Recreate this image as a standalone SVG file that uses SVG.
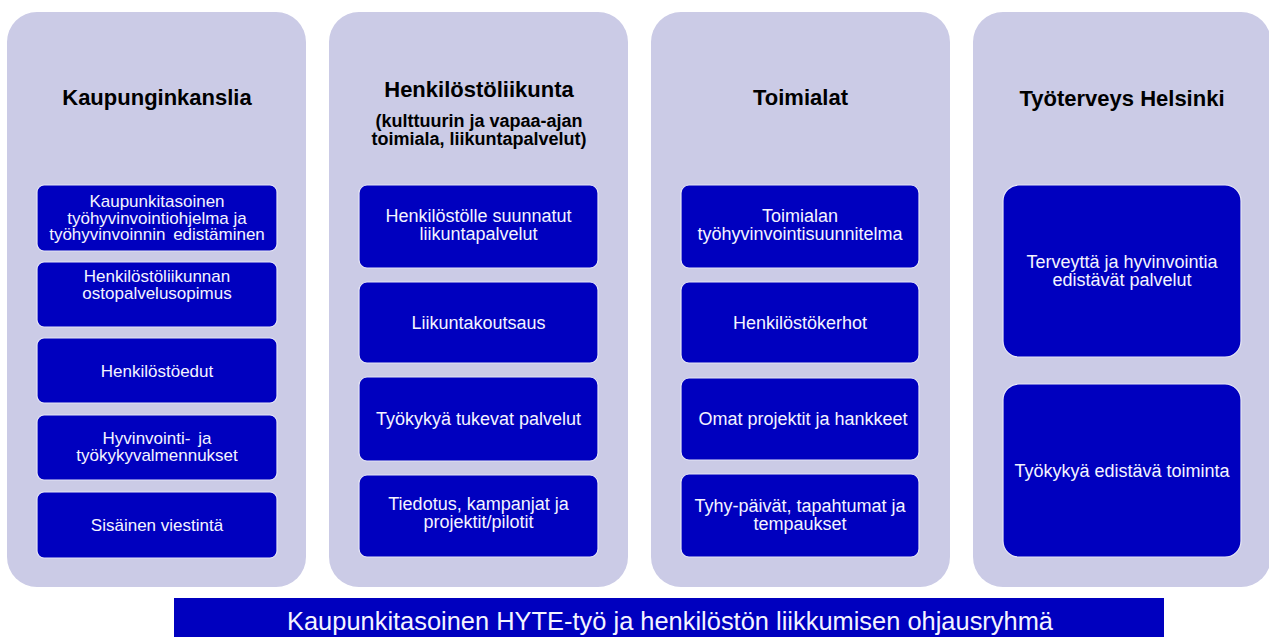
<svg xmlns="http://www.w3.org/2000/svg" width="1269" height="637" viewBox="0 0 1269 637">
<style>
.panel{fill:#cbcbe6;}
.box{fill:#0000bf;stroke:#e6e6f6;stroke-width:1.2;}
.title{font-family:"Liberation Sans",Arial,sans-serif;font-weight:bold;font-size:22px;fill:#000;text-anchor:middle;}
.sub{font-family:"Liberation Sans",Arial,sans-serif;font-weight:bold;font-size:18px;fill:#000;text-anchor:middle;}
.t17{font-family:"Liberation Sans",Arial,sans-serif;font-size:17px;fill:#f4f4ff;text-anchor:middle;}
.t18{font-family:"Liberation Sans",Arial,sans-serif;font-size:18px;fill:#f4f4ff;text-anchor:middle;}
.bar{font-family:"Liberation Sans",Arial,sans-serif;font-size:26px;fill:#f4f4ff;}
</style>
<rect width="1269" height="637" fill="#ffffff"/>
<g id="kaupunginkanslia">
<rect class="panel" x="7" y="12" width="299" height="575" rx="30"/>
<text class="title" x="157" y="105">Kaupunginkanslia</text>
<rect class="box" x="37" y="185" width="240" height="66" rx="7"/>
<text class="t17"><tspan x="157" y="207">Kaupunkitasoinen</tspan><tspan x="157" y="223.5">työhyvinvointiohjelma ja</tspan><tspan x="157" y="240" word-spacing="3">työhyvinvoinnin edistäminen</tspan></text>
<rect class="box" x="37" y="262" width="240" height="65" rx="7"/>
<text class="t17"><tspan x="157" y="282">Henkilöstöliikunnan</tspan><tspan x="157" y="299">ostopalvelusopimus</tspan></text>
<rect class="box" x="37" y="338" width="240" height="65" rx="7"/>
<text class="t17" x="157" y="377">Henkilöstöedut</text>
<rect class="box" x="37" y="415" width="240" height="65" rx="7"/>
<text class="t17"><tspan x="157" y="444" word-spacing="3">Hyvinvointi- ja</tspan><tspan x="157" y="460.5">työkykyvalmennukset</tspan></text>
<rect class="box" x="37" y="492" width="240" height="66" rx="7"/>
<text class="t17" x="157" y="531">Sisäinen viestintä</text>
</g>
<g id="henkilostoliikunta">
<rect class="panel" x="329" y="12" width="299" height="575" rx="30"/>
<text class="title" x="479" y="97">Henkilöstöliikunta</text>
<text class="sub"><tspan x="479" y="127">(kulttuurin ja vapaa-ajan</tspan><tspan x="479" y="144.5">toimiala, liikuntapalvelut)</tspan></text>
<rect class="box" x="359" y="185" width="239" height="83" rx="8"/>
<text class="t18"><tspan x="478.5" y="222">Henkilöstölle suunnatut</tspan><tspan x="478.5" y="240">liikuntapalvelut</tspan></text>
<rect class="box" x="359" y="282" width="239" height="81" rx="8"/>
<text class="t18" x="478.5" y="328.5">Liikuntakoutsaus</text>
<rect class="box" x="359" y="377" width="239" height="84" rx="8"/>
<text class="t18" x="478.5" y="425">Työkykyä tukevat palvelut</text>
<rect class="box" x="359" y="475" width="239" height="82" rx="8"/>
<text class="t18"><tspan x="478.5" y="510">Tiedotus, kampanjat ja</tspan><tspan x="478.5" y="528">projektit/pilotit</tspan></text>
</g>
<g id="toimialat">
<rect class="panel" x="651" y="12" width="299" height="575" rx="30"/>
<text class="title" x="800.5" y="105">Toimialat</text>
<rect class="box" x="681" y="185" width="238" height="83" rx="8"/>
<text class="t18"><tspan x="800" y="222">Toimialan</tspan><tspan x="800" y="240">työhyvinvointisuunnitelma</tspan></text>
<rect class="box" x="681" y="282" width="238" height="81" rx="8"/>
<text class="t18" x="800" y="328.5">Henkilöstökerhot</text>
<rect class="box" x="681" y="378" width="238" height="82" rx="8"/>
<text class="t18" x="803" y="425">Omat projektit ja hankkeet</text>
<rect class="box" x="681" y="474" width="238" height="83" rx="8"/>
<text class="t18"><tspan x="800" y="512">Tyhy-päivät, tapahtumat ja</tspan><tspan x="800" y="530">tempaukset</tspan></text>
</g>
<g id="tyoterveys">
<rect class="panel" x="973" y="12" width="298" height="575" rx="30"/>
<text class="title" x="1122" y="106">Työterveys Helsinki</text>
<rect class="box" x="1003" y="185" width="238" height="172" rx="16"/>
<text class="t18"><tspan x="1122" y="268">Terveyttä ja hyvinvointia</tspan><tspan x="1122" y="285.5">edistävät palvelut</tspan></text>
<rect class="box" x="1003" y="384" width="238" height="173" rx="16"/>
<text class="t18" x="1122" y="477">Työkykyä edistävä toiminta</text>
</g>
<g id="ohjausryhma">
<rect x="174" y="598" width="990" height="42" fill="#0000bf"/>
<text class="bar" x="287" y="630" textLength="766" lengthAdjust="spacingAndGlyphs">Kaupunkitasoinen HYTE-työ ja henkilöstön liikkumisen ohjausryhmä</text>
</g>
<g id="connectors"></g>
</svg>
